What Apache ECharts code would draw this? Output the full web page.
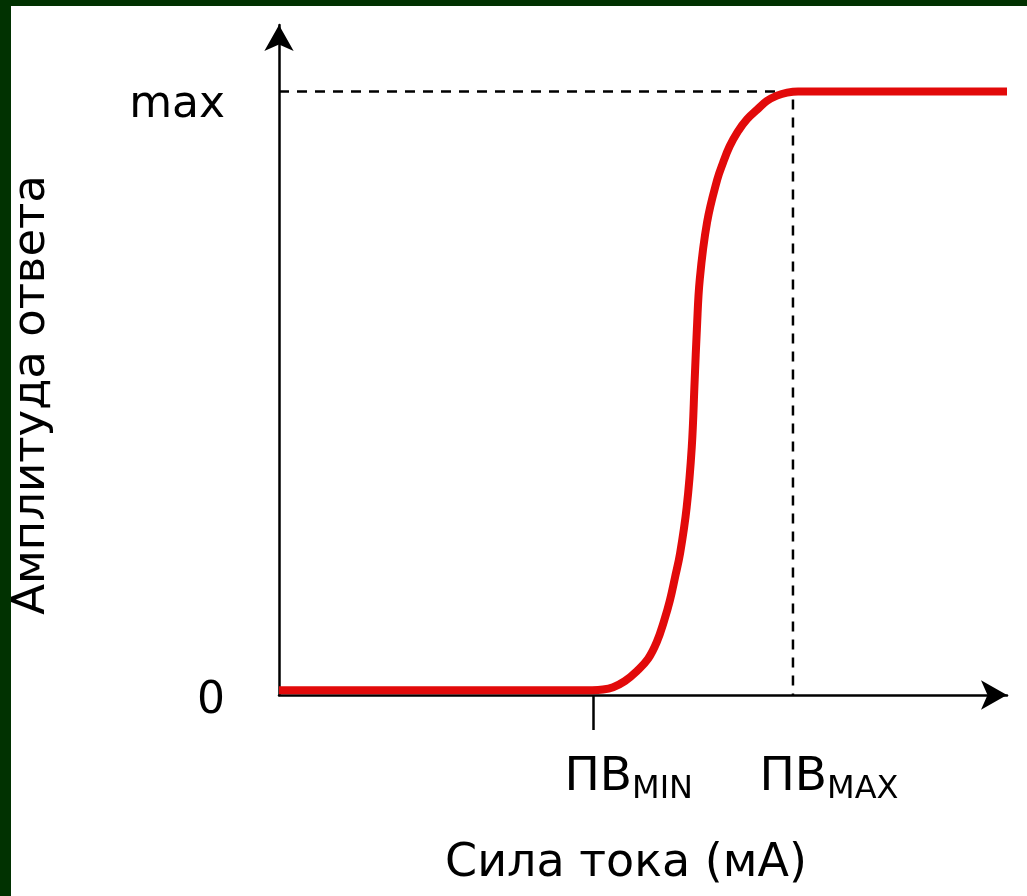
<!DOCTYPE html>
<html>
<head>
<meta charset="utf-8">
<script src="https://cdn.jsdelivr.net/npm/echarts@6/dist/echarts.min.js"></script>
<style>
  html, body { margin: 0; padding: 0; background: #ffffff; }
  #chart { position: absolute; left: 0; top: 0; width: 1027px; height: 896px; }
  .frameTop { position: absolute; left: 0; top: 0; width: 1027px; height: 6px; background: #013201; z-index: 5; }
  .frameLeft { position: absolute; left: 0; top: 0; width: 11px; height: 896px; background: #013201; z-index: 5; }
</style>
</head>
<body>
<div id="chart"></div>
<div class="frameTop"></div>
<div class="frameLeft"></div>
<script>
// Response curve (x: current, y: response amplitude in % of max)
const curveX = [0, 43.0, 44.5, 45.9, 47.5, 49.2, 50.7, 51.9, 52.9, 53.7, 54.4, 55.1, 56.0, 56.7, 57.1, 57.4, 57.8, 58.8, 60.2, 61.0, 61.9, 63.0, 64.3, 65.7, 67.0, 68.4, 69.8, 71.3, 100];
const curveY = [0.8, 0.8, 0.9, 1.3, 2.3, 4.0, 6.0, 8.8, 12.3, 15.7, 19.5, 23.5, 31.1, 41.1, 52.2, 60.6, 68.9, 78.3, 85.4, 88.2, 90.9, 93.3, 95.4, 97.0, 98.4, 99.3, 99.8, 100, 100];

// Thresholds on the x axis
const thresholdValues = [43.1, 70.6];
const thresholdSubs = ['MIN', 'MAX'];
const tickValues = [43.1];

// Y tick labels
const yTickValues = [0, 100];
const yTickLabels = ['0', 'max'];

// Dashed guide: from y axis at max to PV_max, then down to the x axis
const guideX = [0, 70.6, 70.6];
const guideY = [100, 100, 0];

const FONT = '"DejaVu Sans", sans-serif';

const chart = echarts.init(document.getElementById('chart'), null, { renderer: 'canvas' });

chart.setOption({
  backgroundColor: '#ffffff',
  animation: false,
  grid: { left: 279, right: 20, top: 25, bottom: 201, containLabel: false },
  xAxis: {
    type: 'value',
    min: 0,
    max: 100,
    name: 'Сила тока (мА)',
    nameLocation: 'middle',
    nameGap: 146,
    nameTextStyle: { fontFamily: FONT, fontSize: 46, color: '#000', padding: [0, 34, 0, 0] },
    axisLine: {
      show: true,
      lineStyle: { color: '#000', width: 2.5 },
      symbol: ['none', 'arrow'],
      symbolSize: [22, 26],
      symbolOffset: [0, 0]
    },
    axisTick: { show: true, customValues: tickValues, length: 35, lineStyle: { color: '#000', width: 2.5 } },
    axisLabel: {
      show: true,
      customValues: thresholdValues,
      margin: 59,
      align: 'center',
      padding: [0, 0, 0, 72],
      formatter: function (v) {
        const i = thresholdValues.indexOf(v);
        return '{a|ПВ}{b|' + (i >= 0 ? thresholdSubs[i] : '') + '}';
      },
      rich: {
        a: { fontFamily: FONT, fontSize: 47, color: '#000', padding: [0, 0, 5, 0] },
        b: { fontFamily: FONT, fontSize: 32, color: '#000', verticalAlign: 'bottom' }
      }
    },
    splitLine: { show: false }
  },
  yAxis: {
    type: 'value',
    min: 0,
    max: 111,
    name: 'Амплитуда ответа',
    nameLocation: 'middle',
    nameRotate: 90,
    nameGap: 224,
    nameTextStyle: { fontFamily: FONT, fontSize: 45, color: '#000', padding: [0, 70, 0, 0] },
    axisLine: {
      show: true,
      lineStyle: { color: '#000', width: 2.5 },
      symbol: ['none', 'arrow'],
      symbolSize: [22, 26],
      symbolOffset: [0, 0]
    },
    axisTick: { show: false },
    axisLabel: {
      show: true,
      customValues: yTickValues,
      margin: 54,
      color: '#000',
      formatter: function (v) {
        const i = yTickValues.indexOf(v);
        if (i < 0) return '';
        return (v === 0 ? '{z|' : '{m|') + yTickLabels[i] + '}';
      },
      rich: {
        m: { fontFamily: FONT, fontSize: 44, color: '#000', padding: [28, 0, 0, 0] },
        z: { fontFamily: FONT, fontSize: 44, color: '#000', padding: [14, 0, 0, 0] }
      }
    },
    splitLine: { show: false }
  },
  series: [
    {
      type: 'line',
      data: guideX.map((x, i) => [x, guideY[i]]),
      symbol: 'none',
      lineStyle: { color: '#000', width: 2.5, type: [10, 8] },
      z: 2,
      silent: true
    },
    {
      type: 'line',
      data: curveX.map((x, i) => [x, curveY[i]]),
      symbol: 'none',
      smooth: 0.4,
      clip: false,
      lineStyle: { color: '#e20a0a', width: 8, cap: 'butt', join: 'round' },
      z: 3,
      silent: true
    }
  ]
});
</script>
</body>
</html>
